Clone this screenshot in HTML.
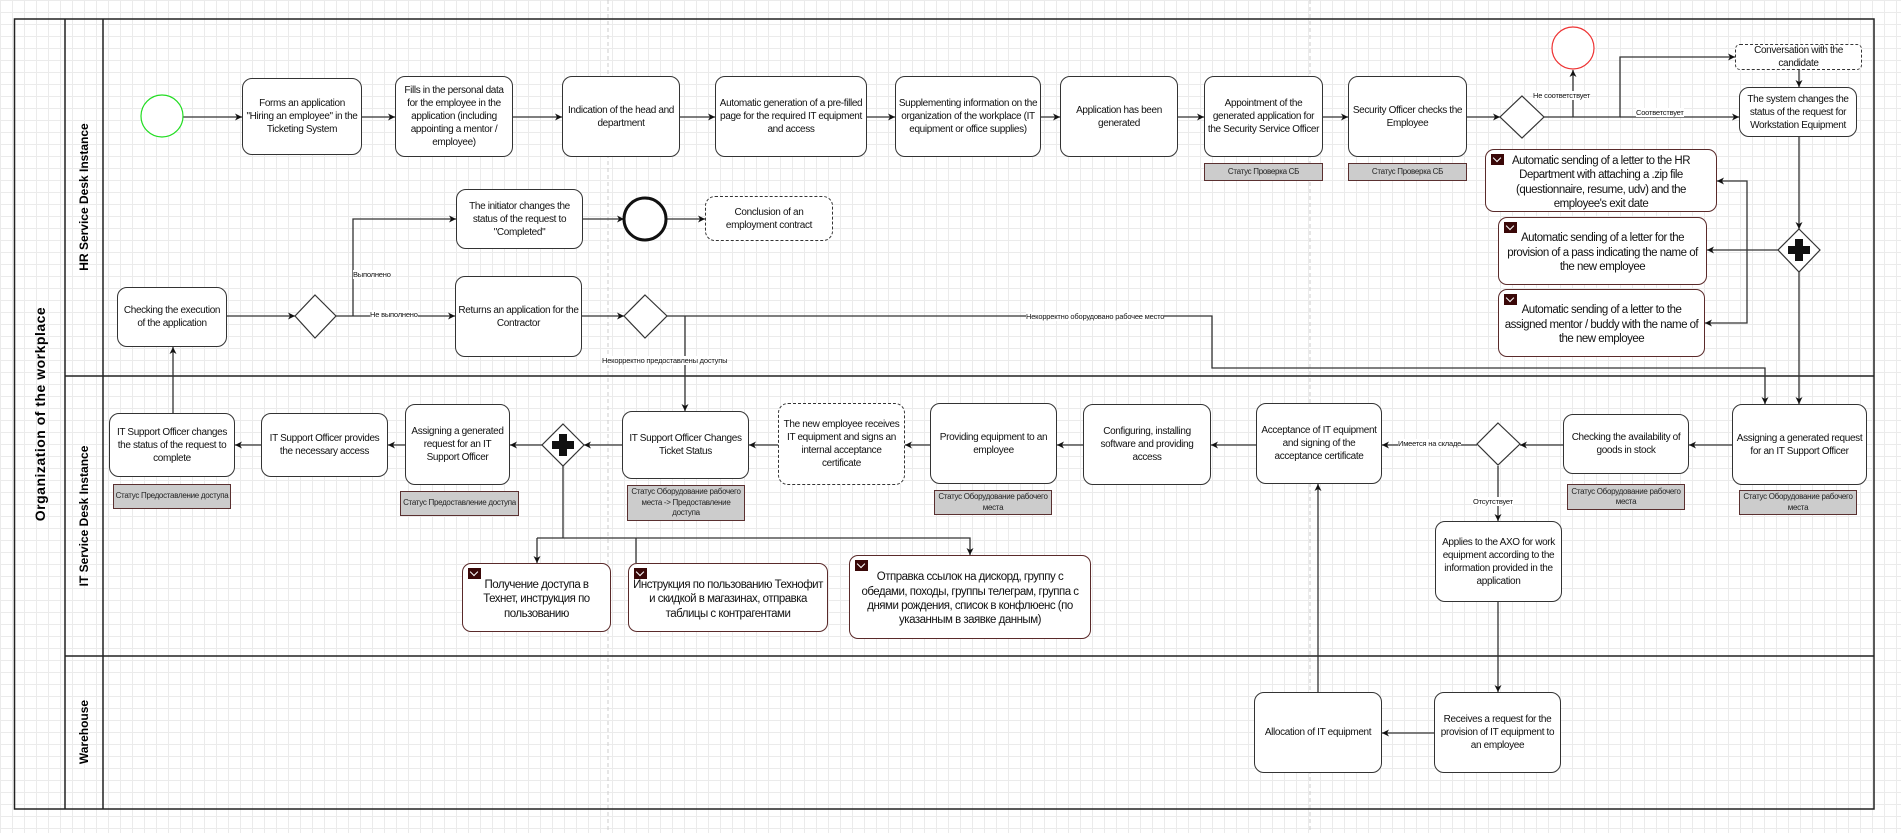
<!DOCTYPE html>
<html><head><meta charset="utf-8">
<style>
body{margin:0;width:1901px;height:833px;overflow:hidden;background:#fff;font-family:"Liberation Sans","Noto Sans CJK SC",sans-serif;}
#bg{position:absolute;left:0;top:0;width:1901px;height:833px;
background-image:linear-gradient(#ebebeb 1px,transparent 1px),linear-gradient(90deg,#ebebeb 1px,transparent 1px);background-size:12px 12px;}
.b{position:absolute;box-sizing:border-box;border:1.5px solid #333;border-radius:10px;background:#fff;display:flex;align-items:center;justify-content:center;text-align:center;font-size:10px;letter-spacing:-0.35px;line-height:1.3;color:#111;padding:0 2px;}
.d{border-style:dashed;}
.s{position:absolute;box-sizing:border-box;border:1.5px solid #5a3030;background:#ccc;display:flex;align-items:center;justify-content:center;text-align:center;font-size:8px;letter-spacing:-0.3px;line-height:1.3;color:#222;}
.m{position:absolute;box-sizing:border-box;border:1.5px solid #5a2a2a;border-radius:9px;background:#fff;display:flex;align-items:center;justify-content:center;text-align:center;font-size:11.5px;letter-spacing:-0.5px;line-height:1.25;color:#111;padding:4px 3px 0;}
.m i{position:absolute;left:5px;top:4px;width:13px;height:11px;background:#3a0808;}
.m i:after{content:"";position:absolute;left:3px;top:1px;width:5px;height:5px;border-right:1.5px solid #fff;border-bottom:1.5px solid #fff;transform:rotate(45deg);}
.l{position:absolute;font-size:7.5px;letter-spacing:-0.2px;background:#fff;color:#111;white-space:nowrap;line-height:9px;}
.v{position:absolute;font-weight:bold;white-space:nowrap;transform:translate(-50%,-50%) rotate(-90deg);}
</style></head><body>
<div id="bg"></div>
<svg width="1901" height="833" style="position:absolute;left:0;top:0">
<defs><marker id="a" markerWidth="8" markerHeight="8" refX="7" refY="4" orient="auto" markerUnits="userSpaceOnUse"><path d="M0,0.5 L7,4 L0,7.5 L2,4z" fill="#111"/></marker></defs>
<line x1="608" y1="0" x2="608" y2="833" stroke="#ccc" stroke-dasharray="4,3"/>
<line x1="1310" y1="0" x2="1310" y2="833" stroke="#ccc" stroke-dasharray="4,3"/>
<g fill="none" stroke="#222" stroke-width="1.5">
<rect x="14.5" y="19" width="1859.5" height="790" fill="none"/>
<line x1="65" y1="19" x2="65" y2="809"/>
<line x1="103" y1="19" x2="103" y2="809"/>
<line x1="65" y1="376" x2="1874" y2="376"/>
<line x1="65" y1="656" x2="1874" y2="656"/>
</g>
<g fill="none" stroke="#333" stroke-width="1.3" marker-end="url(#a)">
<path d="M183 117H242"/><path d="M362 117H395"/><path d="M513 117H562"/><path d="M680 117H715"/><path d="M867 117H895"/><path d="M1041 117H1060"/><path d="M1178 117H1204"/><path d="M1323 117H1348"/><path d="M1467 117H1500"/>
<path d="M1544 117H1620V57H1735"/><path d="M1620 117H1739"/><path d="M1573 117V70"/>
<path d="M1799 70V87"/><path d="M1799 137V229"/><path d="M1799 272V404"/>
<path d="M1778 250H1707"/><path d="M1747 250V181H1717"/><path d="M1747 250V323H1705"/>
<path d="M227 316H295"/><path d="M336 316H455"/><path d="M353 316V219H456"/><path d="M583 219H624"/><path d="M667 219H705"/><path d="M582 316H624"/>
<path d="M667 316H1212V368H1765V404"/><path d="M685 316V411"/>
<path d="M173 413V347"/>
<path d="M1732 445H1689"/><path d="M1563 445H1520"/><path d="M1477 445H1382"/><path d="M1256 445H1211"/><path d="M1083 445H1057"/><path d="M930 445H905"/><path d="M778 445H749"/><path d="M622 445H584"/><path d="M542 445H510"/><path d="M405 445H388"/><path d="M261 445H235"/>
<path d="M1498 466V521"/><path d="M1498 602V692"/><path d="M1434 733H1382"/><path d="M1318 692V484"/>
<path d="M537 538H970V555"/><path d="M537 538V563"/>
</g>
<g fill="none" stroke="#333" stroke-width="1.3"><path d="M563 466V538"/><path d="M636 538V563"/></g>
<circle cx="162" cy="116" r="21" fill="#fff" stroke="#2d2" stroke-width="1.2"/>
<circle cx="1573" cy="48" r="21" fill="#fff" stroke="#e33" stroke-width="1.2"/>
<circle cx="645" cy="219" r="21" fill="#fff" stroke="#111" stroke-width="3"/>
<g fill="#fff" stroke="#333" stroke-width="1.2">
<path d="M1522 96L1544 117L1522 138L1500 117z"/>
<path d="M315 295L336 316L315 338L295 316z"/>
<path d="M645 295L667 316L645 338L624 316z"/>
<path d="M1498 423L1520 444L1498 465L1477 444z"/>
<path d="M1799 229L1820 250L1799 272L1778 250z"/>
<path d="M563 424L584 445L563 466L542 445z"/>
</g>
<g fill="#111"><rect x="1795" y="239" width="8" height="22"/><rect x="1788" y="246" width="22" height="8"/>
<rect x="559" y="434" width="8" height="22"/><rect x="552" y="441" width="22" height="8"/></g>
</svg>
<div class="v" style="left:40px;top:414px;font-size:14px;letter-spacing:0.5px">Organization of the workplace</div>
<div class="v" style="left:84px;top:197px;font-size:12px">HR Service Desk Instance</div>
<div class="v" style="left:84px;top:516px;font-size:12px">IT Service Desk Instance</div>
<div class="v" style="left:84px;top:732px;font-size:12px">Warehouse</div>

<div class="b" style="left:242px;top:78px;width:120px;height:77px">Forms an application "Hiring an employee" in the Ticketing System</div>
<div class="b" style="left:395px;top:76px;width:118px;height:81px">Fills in the personal data for the employee in the application (including appointing a mentor / employee)</div>
<div class="b" style="left:562px;top:76px;width:118px;height:81px">Indication of the head and department</div>
<div class="b" style="left:715px;top:76px;width:152px;height:81px">Automatic generation of a pre-filled page for the required IT equipment and access</div>
<div class="b" style="left:895px;top:76px;width:146px;height:81px">Supplementing information on the organization of the workplace (IT equipment or office supplies)</div>
<div class="b" style="left:1060px;top:76px;width:118px;height:81px">Application has been generated</div>
<div class="b" style="left:1204px;top:76px;width:119px;height:81px">Appointment of the generated application for the Security Service Officer</div>
<div class="s" style="left:1204px;top:163px;width:119px;height:18px">Статус Проверка СБ</div>
<div class="b" style="left:1348px;top:76px;width:119px;height:81px">Security Officer checks the Employee</div>
<div class="s" style="left:1348px;top:163px;width:119px;height:18px">Статус Проверка СБ</div>
<div class="b d" style="left:1735px;top:44px;width:127px;height:26px;border-radius:5px">Conversation with the candidate</div>
<div class="b" style="left:1739px;top:87px;width:118px;height:50px">The system changes the status of the request for Workstation Equipment</div>
<div class="m" style="left:1485px;top:149px;width:232px;height:63px"><i></i>Automatic sending of a letter to the HR Department with attaching a .zip file (questionnaire, resume, udv) and the employee's exit date</div>
<div class="m" style="left:1498px;top:217px;width:209px;height:68px"><i></i>Automatic sending of a letter for the provision of a pass indicating the name of the new employee</div>
<div class="m" style="left:1498px;top:289px;width:207px;height:68px"><i></i>Automatic sending of a letter to the assigned mentor / buddy with the name of the new employee</div>
<div class="l" style="left:1533px;top:91px">Не соответствует</div>
<div class="l" style="left:1636px;top:108px">Соответствует</div>

<div class="b" style="left:456px;top:189px;width:127px;height:60px">The initiator changes the status of the request to "Completed"</div>
<div class="b d" style="left:705px;top:196px;width:128px;height:45px">Conclusion of an employment contract</div>
<div class="b" style="left:117px;top:287px;width:110px;height:60px">Checking the execution of the application</div>
<div class="b" style="left:455px;top:276px;width:127px;height:81px">Returns an application for the Contractor</div>
<div class="l" style="left:353px;top:270px">Выполнено</div>
<div class="l" style="left:370px;top:310px">Не выполнено</div>
<div class="l" style="left:602px;top:356px">Некорректно предоставлены доступы</div>
<div class="l" style="left:1026px;top:312px">Некорректно оборудовано рабочее место</div>

<div class="b" style="left:109px;top:413px;width:126px;height:64px">IT Support Officer changes the status of the request to complete</div>
<div class="s" style="left:113px;top:484px;width:118px;height:25px">Статус Предоставление доступа</div>
<div class="b" style="left:261px;top:413px;width:127px;height:64px">IT Support Officer provides the necessary access</div>
<div class="b" style="left:405px;top:404px;width:105px;height:81px">Assigning a generated request for an IT Support Officer</div>
<div class="s" style="left:400px;top:491px;width:119px;height:25px">Статус Предоставление доступа</div>
<div class="b" style="left:622px;top:411px;width:127px;height:68px">IT Support Officer Changes Ticket Status</div>
<div class="s" style="left:627px;top:485px;width:118px;height:36px">Статус Оборудование рабочего места -&gt; Предоставление доступа</div>
<div class="b d" style="left:778px;top:403px;width:127px;height:82px">The new employee receives IT equipment and signs an internal acceptance certificate</div>
<div class="b" style="left:930px;top:403px;width:127px;height:81px">Providing equipment to an employee</div>
<div class="s" style="left:934px;top:490px;width:118px;height:25px">Статус Оборудование рабочего места</div>
<div class="b" style="left:1083px;top:404px;width:128px;height:81px">Configuring, installing software and providing access</div>
<div class="b" style="left:1256px;top:403px;width:126px;height:81px">Acceptance of IT equipment and signing of the acceptance certificate</div>
<div class="b" style="left:1563px;top:414px;width:126px;height:60px">Checking the availability of goods in stock</div>
<div class="s" style="left:1567px;top:484px;width:118px;height:26px">Статус Оборудование рабочего места</div>
<div class="b" style="left:1732px;top:404px;width:135px;height:81px">Assigning a generated request for an IT Support Officer</div>
<div class="s" style="left:1739px;top:490px;width:118px;height:25px">Статус Оборудование рабочего места</div>
<div class="l" style="left:1398px;top:439px">Имеется на складе</div>
<div class="l" style="left:1473px;top:497px">Отсутствует</div>
<div class="b" style="left:1435px;top:521px;width:127px;height:81px">Applies to the AXO for work equipment according to the information provided in the application</div>
<div class="m" style="left:462px;top:563px;width:149px;height:69px"><i></i>Получение доступа в Технет, инструкция по пользованию</div>
<div class="m" style="left:628px;top:563px;width:200px;height:69px"><i></i>Инструкция по пользованию Технофит и скидкой в магазинах, отправка таблицы с контрагентами</div>
<div class="m" style="left:849px;top:555px;width:242px;height:84px"><i></i>Отправка ссылок на дискорд, группу с обедами, походы, группы телеграм, группа с днями рождения, список в конфлюенс (по указанным в заявке данным)</div>

<div class="b" style="left:1434px;top:692px;width:127px;height:81px">Receives a request for the provision of IT equipment to an employee</div>
<div class="b" style="left:1254px;top:692px;width:128px;height:81px">Allocation of IT equipment</div>
</body></html>
